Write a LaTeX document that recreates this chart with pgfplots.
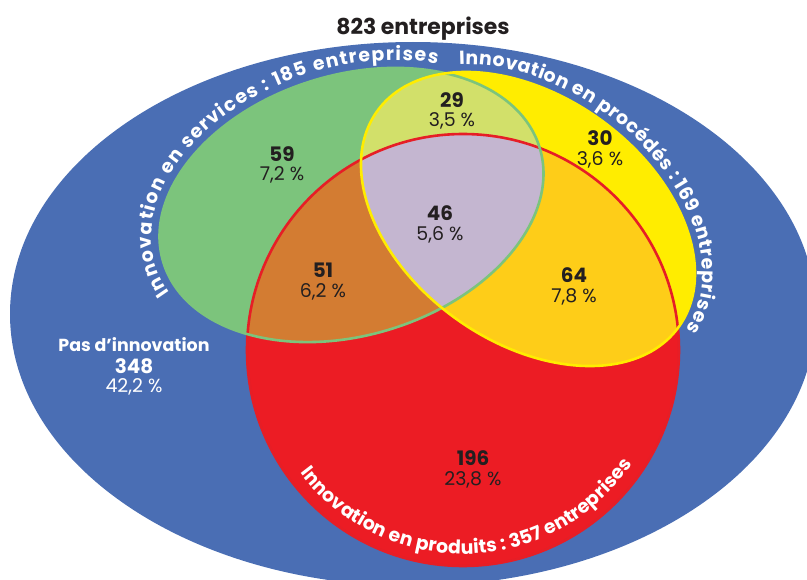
\documentclass[border=0pt]{standalone}
\usepackage{fontspec}
\setmainfont{Poppins}
\newfontfamily\curvefont{Poppins}
\usepackage{pgfplots}
\pgfplotsset{compat=1.18}
\usetikzlibrary{decorations.text}
\definecolor{cBlue}{RGB}{74,110,180}
\definecolor{cGreen}{RGB}{124,196,124}
\definecolor{cYellow}{RGB}{255,237,0}
\definecolor{cRed}{RGB}{236,28,36}
\definecolor{cRedLine}{RGB}{230,30,38}
\definecolor{cGY}{RGB}{210,224,106}
\definecolor{cGR}{RGB}{211,124,50}
\definecolor{cYR}{RGB}{254,205,24}
\definecolor{cGYR}{RGB}{196,182,208}
\definecolor{cTxt}{RGB}{35,31,32}
\newcommand{\num}[1]{{\bfseries\fontsize{20}{22}\selectfont #1}}
\newcommand{\pct}[1]{{\fontsize{19}{22}\selectfont #1}}
\begin{document}
\begin{tikzpicture}
\begin{axis}[x=1bp,y=1bp,xmin=0,xmax=807,ymin=0,ymax=580,hide axis,clip=true,
  at={(0,0)},anchor=south west]
% base sets
\fill[cBlue] (axis cs:413,266) ellipse[x radius=403,y radius=272];
\fill[cGreen,rotate around={16.9:(axis cs:351.5,375)}] (axis cs:351.5,375) ellipse[x radius=196.7,y radius=130.2];
\fill[cYellow,rotate around={-35.5:(axis cs:528,361)}] (axis cs:528,361) ellipse[x radius=185.4,y radius=123];
\fill[cRed] (axis cs:463,230) circle[radius=216];
% overlaps
\begin{scope}
\clip[rotate around={16.9:(axis cs:351.5,375)}] (axis cs:351.5,375) ellipse[x radius=196.7,y radius=130.2];
\fill[cGY,rotate around={-35.5:(axis cs:528,361)}] (axis cs:528,361) ellipse[x radius=185.4,y radius=123];
\fill[cGR] (axis cs:463,230) circle[radius=216];
\end{scope}
\begin{scope}
\clip[rotate around={-35.5:(axis cs:528,361)}] (axis cs:528,361) ellipse[x radius=185.4,y radius=123];
\fill[cYR] (axis cs:463,230) circle[radius=216];
\end{scope}
\begin{scope}
\clip[rotate around={16.9:(axis cs:351.5,375)}] (axis cs:351.5,375) ellipse[x radius=196.7,y radius=130.2];
\clip[rotate around={-35.5:(axis cs:528,361)}] (axis cs:528,361) ellipse[x radius=185.4,y radius=123];
\fill[cGYR] (axis cs:463,230) circle[radius=216];
\end{scope}
% outlines
\draw[cRedLine,line width=2.6bp] (axis cs:463,230) circle[radius=216];
\draw[cGreen,line width=2.6bp,rotate around={16.9:(axis cs:351.5,375)}] (axis cs:351.5,375) ellipse[x radius=196.7,y radius=130.2];
\draw[cYellow,line width=2.6bp,rotate around={-35.5:(axis cs:528,361)}] (axis cs:528,361) ellipse[x radius=185.4,y radius=123];
% counts
\node[cTxt] at (axis cs:282,426) {\num{59}};
\node[cTxt] at (axis cs:282,405) {\pct{7,2 \%}};
\node[cTxt] at (axis cs:452,480) {\num{29}};
\node[cTxt] at (axis cs:452,459) {\pct{3,5 \%}};
\node[cTxt] at (axis cs:600,442) {\num{30}};
\node[cTxt] at (axis cs:600,420) {\pct{3,6 \%}};
\node[cTxt] at (axis cs:440,367) {\num{46}};
\node[cTxt] at (axis cs:440,345) {\pct{5,6 \%}};
\node[cTxt] at (axis cs:323,310) {\num{51}};
\node[cTxt] at (axis cs:323,288) {\pct{6,2 \%}};
\node[cTxt] at (axis cs:574,305) {\num{64}};
\node[cTxt] at (axis cs:574,283) {\pct{7,8 \%}};
\node[cTxt] at (axis cs:473,122) {\num{196}};
\node[cTxt] at (axis cs:473,100) {\pct{23,8 \%}};
\node[white] at (axis cs:134,235) {{\bfseries\fontsize{17.5}{20}\selectfont Pas d’innovation}};
\node[white] at (axis cs:134,214) {\num{348}};
\node[white] at (axis cs:134,193) {\pct{42,2 \%}};
\node[cTxt] at (axis cs:423,551) {{\bfseries\fontsize{22}{24}\selectfont 823 entreprises}};
\end{axis}
\begin{scope}[x=1bp,y=1bp]
\begin{scope}[shift={(351.5,375)},rotate=16.9]
\path[decorate,decoration={text along path,text align=fit to path,text color=white,
  text={|\curvefont\bfseries\fontsize{19}{19}\selectfont|Innovation en services : 185 entreprises}}]
  (193:205 and 138) arc[start angle=193,end angle=53,x radius=205,y radius=138];
\end{scope}
\begin{scope}[shift={(528,361)},rotate=-35.5]
\path[decorate,decoration={text along path,text align=fit to path,text color=white,
  text={|\curvefont\bfseries\fontsize{19}{19}\selectfont|Innovation en procédés : 169 entreprises}}]
  (139:193 and 131) arc[start angle=139,end angle=1,x radius=193,y radius=131];
\end{scope}
\begin{scope}[shift={(463,230)}]
\path[decorate,decoration={text along path,text align=fit to path,text color=white,
  text={|\curvefont\bfseries\fontsize{19}{19}\selectfont|Innovation en produits : 357 entreprises}}]
  (217:204) arc[start angle=217,end angle=326,radius=204];
\end{scope}
\end{scope}
\pgfresetboundingbox
\path[use as bounding box] (0,0) rectangle (807bp,580bp);
\end{tikzpicture}
\end{document}
